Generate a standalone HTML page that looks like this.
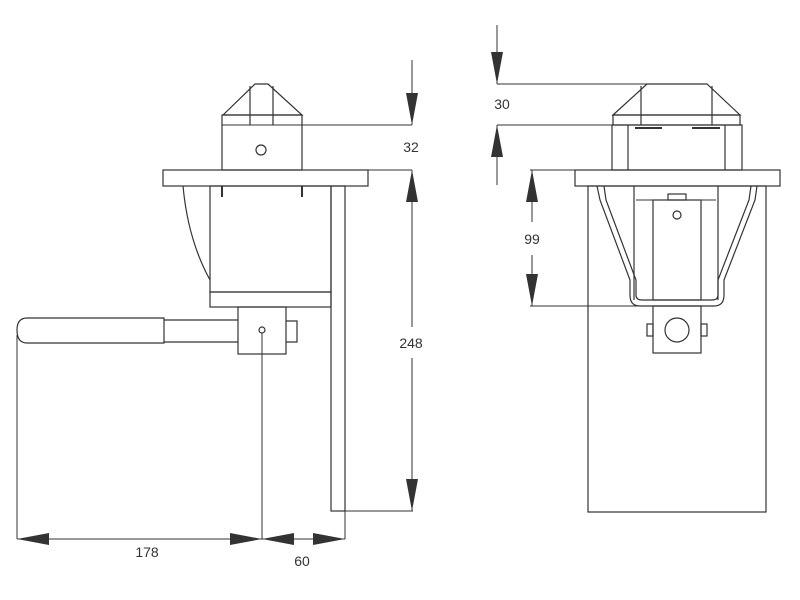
<!DOCTYPE html>
<html><head><style>html,body{margin:0;padding:0;background:#fff;}svg{display:block}</style></head>
<body>
<svg width="800" height="600" viewBox="0 0 800 600" xmlns="http://www.w3.org/2000/svg" font-family="Liberation Sans, sans-serif">
<defs>
<marker id="a" viewBox="0 0 10 10" refX="10" refY="5" markerWidth="10" markerHeight="10" markerUnits="userSpaceOnUse" orient="auto"><path d="M0,0 L10,5 L0,10 z" fill="#333"/></marker>
</defs>
<g fill="none" stroke="#333" stroke-width="1.2">
<!-- LEFT VIEW -->
<path d="M223,115 L255,84 L268,84 L302,115 Z"/>
<line x1="250" y1="86" x2="250" y2="125"/><line x1="273" y1="86" x2="273" y2="125"/>
<rect x="222" y="115" width="80" height="55"/>
<line x1="222" y1="125" x2="412" y2="125" stroke-width="1"/>
<circle cx="261" cy="150" r="5"/>
<rect x="163" y="170" width="205" height="16"/>
<line x1="368" y1="170" x2="412" y2="170" stroke-width="1"/>
<rect x="210" y="186" width="121" height="106"/>
<rect x="210" y="292" width="121" height="15"/>
<line x1="222" y1="186" x2="222" y2="197" stroke-width="2"/><line x1="302" y1="186" x2="302" y2="197" stroke-width="2"/>
<path d="M183,186 Q188,240 210,280"/>
<rect x="331" y="186" width="14" height="325"/>
<line x1="331" y1="511" x2="413" y2="511" stroke-width="1"/>
<rect x="238" y="307" width="48" height="47"/>
<circle cx="262" cy="330" r="3"/>
<path d="M286,321 L297,321 L297,342 L286,342"/>
<path d="M164,320 L238,320 M164,342 L238,342"/>
<path d="M164,318 L27,318 Q17,318 17,330 Q17,343 27,343 L164,343 Z"/>
<line x1="262" y1="333" x2="262" y2="539" stroke-width="1"/>
<line x1="17" y1="335" x2="17" y2="539" stroke-width="1"/>
<line x1="345" y1="511" x2="345" y2="539" stroke-width="1"/>
<line x1="17" y1="539" x2="262" y2="539" stroke-width="1"/>
<path d="M17,539 l32,-6 v12 z M262,539 l-32,-6 v12 z M262,539 l32,-6 v12 z M345,539 l-32,-6 v12 z" fill="#333" stroke="none"/>
<line x1="262" y1="539" x2="345" y2="539" stroke-width="1"/>
<!-- dim 32 / 248 -->
<line x1="412" y1="60" x2="412" y2="125" stroke-width="1"/>
<path d="M412,125 l-6,-32 h12 z" fill="#333" stroke="none"/>
<line x1="412" y1="170" x2="412" y2="327" stroke-width="1"/>
<line x1="412" y1="358" x2="412" y2="511" stroke-width="1"/>
<path d="M412,170 l-6,32 h12 z M412,511 l-6,-32 h12 z" fill="#333" stroke="none"/>

<!-- RIGHT VIEW -->
<path d="M613,115 L647,84 L707,84 L740,115 Z"/>
<line x1="641" y1="86" x2="641" y2="125"/><line x1="712" y1="86" x2="712" y2="125"/>
<rect x="613" y="115" width="127" height="10"/>
<line x1="497" y1="84" x2="647" y2="84" stroke-width="1"/>
<line x1="497" y1="125" x2="613" y2="125" stroke-width="1"/>
<line x1="497" y1="25" x2="497" y2="84" stroke-width="1"/>
<path d="M497,84 l-6,-32 h12 z M497,125 l-6,32 h12 z" fill="#333" stroke="none"/>
<line x1="497" y1="125" x2="497" y2="185" stroke-width="1"/>
<rect x="612" y="125" width="130" height="45"/>
<line x1="628" y1="125" x2="628" y2="170"/><line x1="725" y1="125" x2="725" y2="170"/>
<path d="M635,128 h27 M692,128 h28" stroke-width="2"/>
<rect x="575" y="170" width="205" height="16"/>
<rect x="588" y="186" width="178" height="326"/>
<line x1="634" y1="186" x2="634" y2="300"/><line x1="718" y1="186" x2="718" y2="300"/>
<line x1="636" y1="200" x2="716" y2="200" stroke-width="1"/>
<rect x="668" y="194" width="18" height="6"/>
<rect x="653" y="200" width="48" height="100"/>
<circle cx="677" cy="215" r="4"/>
<path d="M597,186 L600,200 L630,280 L630,295 Q630,306 640,306 L714,306 Q724,306 724,295 L724,280 L755,200 L757,186"/>
<path d="M604,186 L606,200 L636,280 L636,295 Q636,300 642,300 L712,300 Q718,300 718,295 L718,280 L749,200 L751,186"/>
<rect x="653" y="306" width="48" height="47"/>
<circle cx="677" cy="330" r="12"/>
<rect x="647" y="324" width="6" height="12"/><rect x="701" y="324" width="6" height="12"/>
<line x1="530" y1="170" x2="575" y2="170" stroke-width="1"/>
<line x1="530" y1="306" x2="653" y2="306" stroke-width="1"/>
<line x1="532" y1="170" x2="532" y2="222" stroke-width="1"/>
<line x1="532" y1="255" x2="532" y2="306" stroke-width="1"/>
<path d="M532,170 l-6,32 h12 z M532,306 l-6,-32 h12 z" fill="#333" stroke="none"/>
</g>
<g fill="#333" font-size="14" text-anchor="middle">
<text x="411" y="152">32</text>
<text x="411" y="348">248</text>
<text x="147" y="557">178</text>
<text x="302" y="566">60</text>
<text x="502" y="109">30</text>
<text x="532" y="244">99</text>
</g>
</svg>
</body></html>
